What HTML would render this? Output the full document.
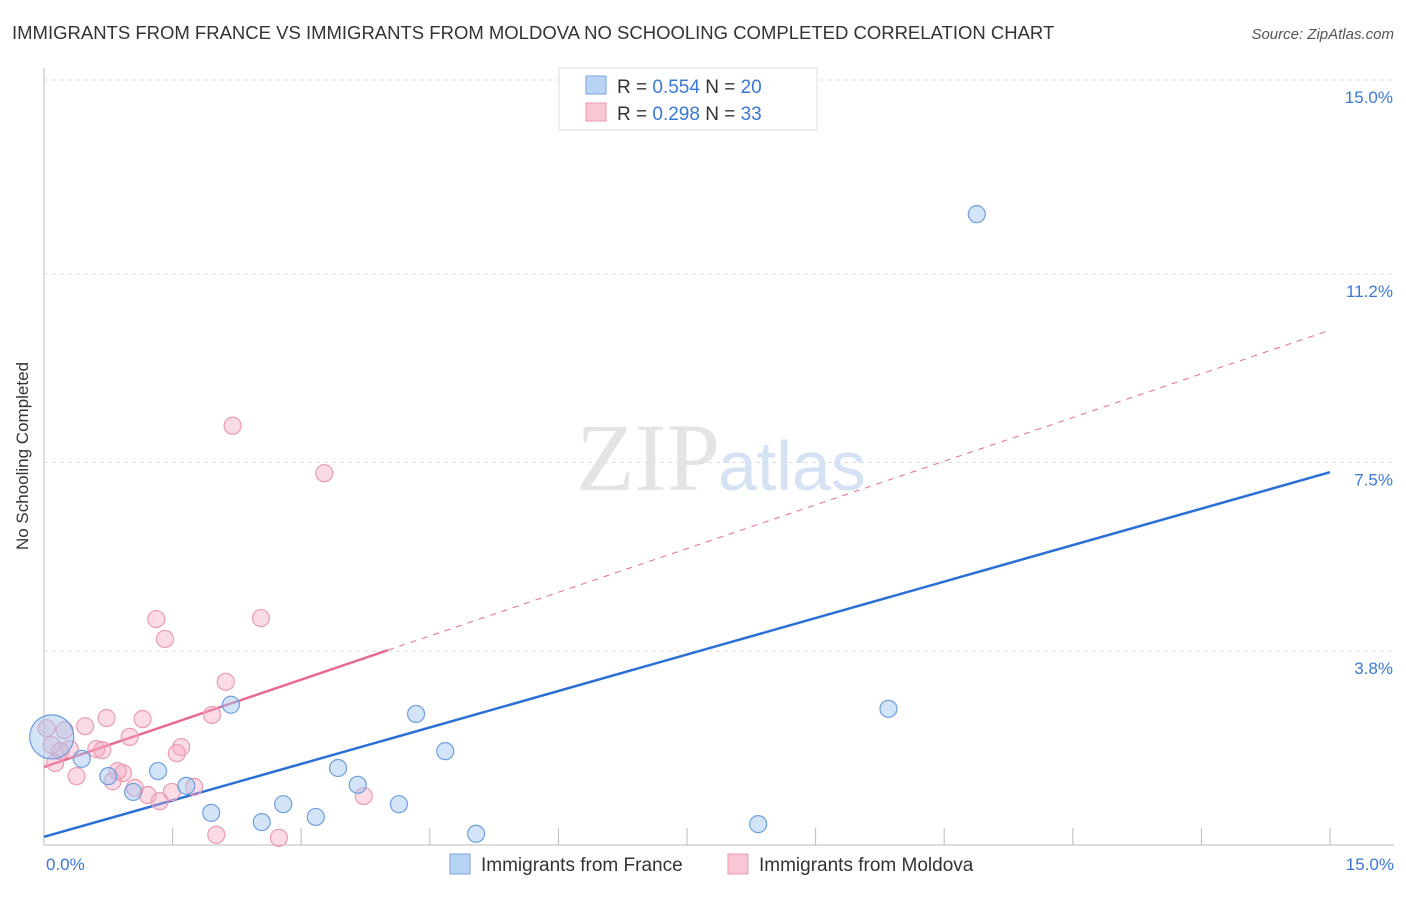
<!DOCTYPE html>
<html><head><meta charset="utf-8"><style>
body{margin:0;background:#fff;font-family:"Liberation Sans",sans-serif;}
</style></head><body>
<svg width="1406" height="892" xmlns="http://www.w3.org/2000/svg" font-family="Liberation Sans, sans-serif">
<text x="12" y="39" font-size="18.5" fill="#333">IMMIGRANTS FROM FRANCE VS IMMIGRANTS FROM MOLDOVA NO SCHOOLING COMPLETED CORRELATION CHART</text>
<text x="1394" y="39" font-size="15" fill="#555" font-style="italic" text-anchor="end">Source: ZipAtlas.com</text>
<text x="720" y="490" font-size="96" fill="#e4e4e4" text-anchor="end" font-family="Liberation Serif, serif">ZIP</text>
<text x="718" y="490" font-size="70" fill="#d4e2f4">atlas</text>
<g id="grid"></g>
<line x1="44" y1="68" x2="44" y2="845" stroke="#bbb"/>
<line x1="44" y1="845" x2="1394" y2="845" stroke="#bbb"/>
<text x="28" y="456" font-size="17" fill="#333" text-anchor="middle" transform="rotate(-90 28 456)">No Schooling Completed</text>
<text x="46" y="870" font-size="17" fill="#3a78d6">0.0%</text>
<text x="1394" y="870" font-size="17" fill="#3a78d6" text-anchor="end">15.0%</text>
<g id="lines"></g>
<g id="pts"></g>
<g>
<rect x="559" y="68" width="258" height="62" fill="#fff" stroke="#ddd"/>
<rect x="586" y="76" width="20" height="18" fill="#b8d3f5" stroke="#7aa6e0"/>
<rect x="586" y="103" width="20" height="18" fill="#f9c6d4" stroke="#ee9ab3"/>
<text x="617" y="93" font-size="19" fill="#333">R = <tspan fill="#3a78d6">0.554</tspan>   N = <tspan fill="#3a78d6">20</tspan></text>
<text x="617" y="120" font-size="19" fill="#333">R = <tspan fill="#3a78d6">0.298</tspan>   N = <tspan fill="#3a78d6">33</tspan></text>
</g>
<g>
<rect x="450" y="854" width="20" height="20" fill="#b8d3f5" stroke="#7aa6e0"/>
<text x="481" y="871" font-size="19" fill="#333">Immigrants from France</text>
<rect x="728" y="854" width="20" height="20" fill="#f9c6d4" stroke="#ee9ab3"/>
<text x="759" y="871" font-size="19" fill="#333">Immigrants from Moldova</text>
</g>
</svg>
<script>
const yTicks=[3.8,7.5,11.2,15.0];
const yTickLabels=["3.8%","7.5%","11.2%","15.0%"];
const franceX=[10.88,9.85,8.33,5.04,4.68,4.34,4.14,3.66,3.43,3.17,2.79,2.54,2.18,1.95,1.66,1.33,1.04,0.75,0.44,0.09];
const franceY=[12.37,2.67,0.41,0.22,1.84,2.57,0.80,1.18,1.51,0.55,0.80,0.45,2.75,0.63,1.16,1.45,1.04,1.35,1.69,2.12];
const moldovaX=[2.20,3.27,1.31,1.41,2.53,2.12,1.96,1.60,1.55,1.15,1.00,0.73,0.48,0.24,0.03,0.30,0.19,0.61,0.68,0.13,0.38,0.80,0.92,0.86,1.06,1.21,1.35,1.49,1.75,2.01,2.74,3.73,0.09];
const moldovaY=[8.22,7.29,4.43,4.04,4.45,3.20,2.55,1.92,1.80,2.47,2.12,2.49,2.33,2.25,2.29,1.88,1.84,1.88,1.86,1.61,1.35,1.25,1.41,1.45,1.12,0.98,0.86,1.04,1.14,0.20,0.14,0.96,1.96];
const franceTrend=[0.16,7.31];
const moldovaTrend=[1.53,0.571];
const sx=v=>44+v*(1286/15), sy=v=>845-v*51;
const NS="http://www.w3.org/2000/svg";
function mk(t,a,p){const e=document.createElementNS(NS,t);for(const k in a)e.setAttribute(k,a[k]);p.appendChild(e);return e;}
const g=document.getElementById('grid');
yTicks.forEach((t,i)=>{
 const l=mk('line',{x1:44,x2:1394,y1:sy(t),y2:sy(t),stroke:'#ddd','stroke-dasharray':'4,4'},g);
 
 
 const tx=mk('text',{x:1393,y:sy(t)+23,'font-size':17,fill:'#3a78d6','text-anchor':'end'},g);
 tx.textContent=yTickLabels[i];
 
 
});
for(let k=1;k<=10;k++){const x=44+k*128.6;
 const l=mk('line',{x1:x,x2:x,y1:828,y2:845,stroke:'#bbb'},g);
 
 }
const L=document.getElementById('lines');
const bl=mk('line',{x1:sx(0),y1:sy(franceTrend[0]),x2:sx(15),y2:sy(franceTrend[1]),stroke:'#2a6fd6','stroke-width':2.5},L);


const pm=x=>moldovaTrend[0]+moldovaTrend[1]*x;
const pl=mk('line',{x1:sx(0),y1:sy(pm(0)),x2:sx(4.01),y2:sy(pm(4.01)),stroke:'#e86a93','stroke-width':2.5},L);


const pd=mk('line',{x1:sx(4.01),y1:sy(pm(4.01)),x2:sx(15),y2:sy(pm(15)),stroke:'#e86a93','stroke-width':1,'stroke-dasharray':'6,6'},L);


const P=document.getElementById('pts');
moldovaX.forEach((x,i)=>{
 const c=mk('circle',{cx:sx(x),cy:sy(moldovaY[i]),r:8.5,fill:'rgba(244,167,190,0.4)',stroke:'#ec9ab3','stroke-width':1.2},P);
 
 
});
franceX.forEach((x,i)=>{
 const c=mk('circle',{cx:sx(x),cy:sy(franceY[i]),r:i==19?22:8.5,fill:'rgba(160,195,240,0.45)',stroke:'#6d9fe0','stroke-width':1.2},P);
 
 
});
</script>
</body></html>
